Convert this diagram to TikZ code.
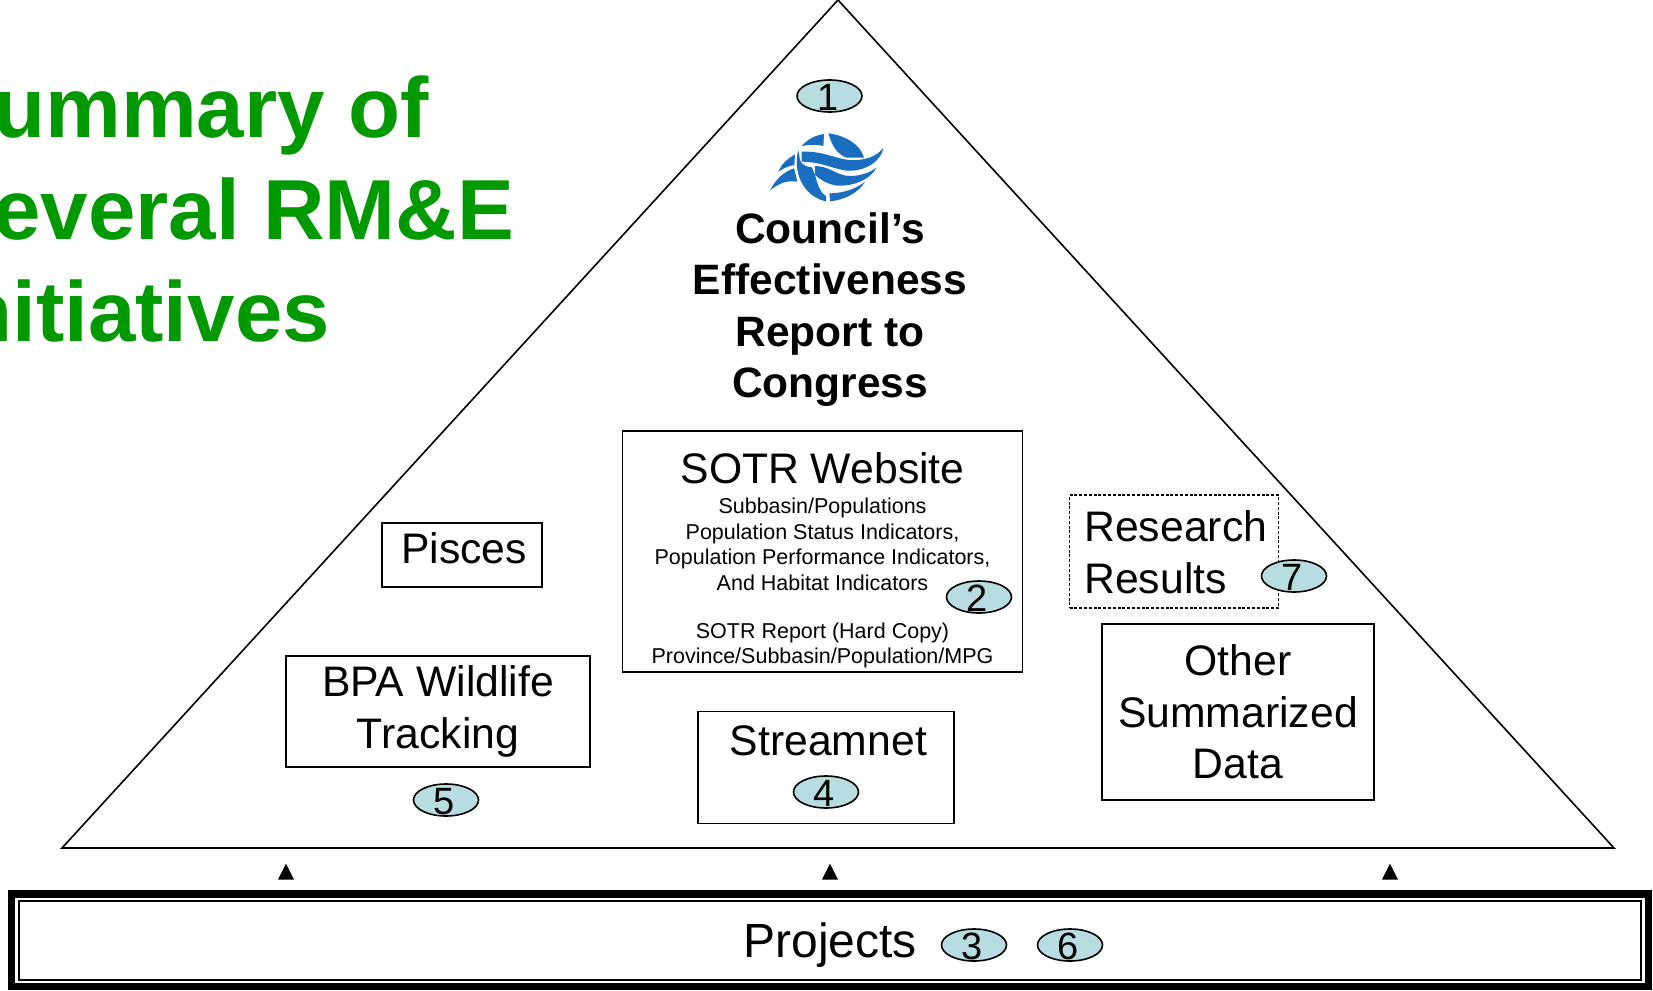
\documentclass[tikz,border=0pt]{standalone}
\usepackage{fontspec}
\setmainfont{Liberation Sans}
\usetikzlibrary{shapes.geometric,positioning}
\definecolor{titleG}{HTML}{009900}
\definecolor{ovalB}{HTML}{B7DDE1}
\definecolor{logoB}{HTML}{1A6EC0}
\tikzstyle{recNode} = [rectangle, draw=black, line width=0.8pt, inner sep=0pt, align=center]
\tikzstyle{recNodeD} = [recNode, dash pattern=on 1.5pt off 0.9pt, line width=0.6pt]
\tikzstyle{eNode} = [inner sep=0pt, align=center, font=\fontsize{21.35}{25.8}\selectfont]
\tikzstyle{eNodeS} = [inner sep=0pt, align=center, font=\fontsize{10.75}{12.8}\selectfont]
\tikzstyle{eNodeB} = [inner sep=0pt, align=center, font=\fontsize{21.25}{25.7}\selectfont\bfseries]
\tikzstyle{titleNode} = [inner sep=0pt, anchor=base west, text=titleG, font=\fontsize{42.6}{50}\selectfont\bfseries]
\tikzstyle{ovalNode} = [ellipse, draw=black, fill=ovalB, line width=0.8pt, inner sep=0pt, minimum width=32.5pt, minimum height=16pt]
\tikzstyle{tipNode} = [isosceles triangle, isosceles triangle apex angle=60, isosceles triangle stretches, shape border rotate=90, anchor=lower side, fill=black, inner sep=0pt, minimum width=8pt, minimum height=8pt]
\newcommand{\ovalnum}[1]{\smash{\raisebox{-7.4pt}{\fontsize{19}{19}\selectfont #1\kern1.6pt}}}
\begin{document}
\begin{tikzpicture}[x=0.5pt,y=-0.5pt,node distance=0pt]
    \useasboundingbox (0,0) rectangle (1653,990);
    % title
    \node (summary) [titleNode] at (-7,137) {ummary of};
    \node (several) [titleNode] at (-7,239) {everal RM\&E};
    \node (initiatives) [titleNode] at (-40,341) {nitiatives};
    % pyramid
    \coordinate (top) at (838,0);
    \coordinate (left) at (62,848);
    \coordinate (right) at (1614,848);
    \draw [line width=0.8pt, line join=miter] (top) -- (right) -- (left) -- cycle;
    % logo
    \begin{scope}[shift={(700,60)},x=0.1667pt,y=-0.1667pt]
        \fill [logoB] (385,220) .. controls (430,225) and (480,250) .. (492,293) -- (440,293) .. controls (410,282) and (395,255) .. cycle;
        \fill [logoB] (305,258) .. controls (325,235) and (350,225) .. (372,222) -- (370,258) .. controls (345,252) and (325,254) .. cycle;
        \fill [logoB] (305,275) .. controls (370,272) and (410,298) .. (450,300) .. controls (495,302) and (530,290) .. (550,263) .. controls (545,300) and (500,335) .. (440,332) .. controls (395,325) and (360,305) .. (305,305) -- cycle;
        \fill [logoB] (345,318) .. controls (390,318) and (410,348) .. (450,348) .. controls (480,348) and (510,338) .. (530,322) .. controls (510,360) and (460,378) .. (415,377) .. controls (385,375) and (360,358) .. (345,345) -- cycle;
        \fill [logoB] (295,270) .. controls (278,330) and (305,408) .. (378,424) -- (378,408) .. controls (350,392) and (350,345) .. (335,322) .. controls (318,320) and (305,315) .. (300,300) -- cycle;
        \fill [logoB] (388,400) .. controls (430,400) and (470,385) .. (495,365) .. controls (475,400) and (430,420) .. (390,424) -- cycle;
        \fill [logoB] (235,335) .. controls (245,310) and (265,295) .. (285,283) -- (283,315) .. controls (265,318) and (250,325) .. cycle;
        \fill [logoB] (210,392) .. controls (225,360) and (250,335) .. (282,325) -- (292,365) .. controls (260,360) and (235,370) .. cycle;
    \end{scope}
    \node (councilTxt) [eNodeB] at (830,309.5) {Council’s\\Effectiveness\\Report to\\Congress};
    \node (one) [ovalNode] at (829.5,96) {\ovalnum{1}};
    % boxes
    \node (sotr) [recNode, minimum width=200pt, minimum height=120.5pt] at (822.5,551.5) {};
    \node (sotrTxt) [eNode, above of=sotr, yshift=41.5pt] {SOTR Website};
    \node (sotrInd) [eNodeS, below of=sotrTxt, yshift=-38pt] {Subbasin/Populations\\Population Status Indicators,\\Population Performance Indicators,\\And Habitat Indicators};
    \node (sotrHard) [eNodeS, below of=sotrInd, yshift=-50.5pt] {SOTR Report (Hard Copy)\\Province/Subbasin/Population/MPG};
    \node (two) [ovalNode] at (979,597) {\ovalnum{2}};
    \node (pisces) [recNode, minimum width=80pt, minimum height=32pt] at (462,555) {};
    \node (piscesTxt) [eNode, above of=pisces, yshift=3.5pt, xshift=1pt] {Pisces};
    \node (bpa) [recNode, minimum width=152pt, minimum height=55.5pt] at (438,711.5) {};
    \node (bpaTxt) [eNode, above of=bpa, yshift=0pt] {BPA Wildlife\\Tracking};
    \node (five) [ovalNode] at (446,800) {\ovalnum{5}};
    \node (stream) [recNode, minimum width=128pt, minimum height=56pt] at (826,767.5) {};
    \node (streamTxt) [eNode, above of=stream, yshift=13.5pt, xshift=1.2pt] {Streamnet};
    \node (four) [ovalNode] at (826,792) {\ovalnum{4}};
    \node (other) [recNode, eNode, draw=black, line width=0.8pt, minimum width=136pt, minimum height=88pt] at (1238,712) {Other\\Summarized\\Data};
    \node (research) [recNodeD, minimum width=104.5pt, minimum height=56.5pt] at (1174,551.5) {};
    \node (researchTxt) [eNode, align=left, anchor=west] at (1084,552) {Research\\Results};
    \node (seven) [ovalNode] at (1294,576) {\ovalnum{7}};
    % small arrow tips
    \node (tipA) [tipNode] at (286,880) {};
    \node (tipB) [tipNode] at (830,880) {};
    \node (tipC) [tipNode] at (1390,880) {};
    % projects bar
    \node (barOut) [recNode, line width=3.75pt, minimum width=818.5pt, minimum height=46.25pt] at (830,940.25) {};
    \node (bar) [recNode, line width=1pt, minimum width=811pt, minimum height=39.5pt] at (830,940.5) {};
    \node (barTxt) [eNode, font=\fontsize{24}{28}\selectfont] at (830,945) {Projects};
    \node (three) [ovalNode] at (974,945) {\ovalnum{3}};
    \node (six) [ovalNode] at (1070,945) {\ovalnum{6}};
\end{tikzpicture}
\end{document}
